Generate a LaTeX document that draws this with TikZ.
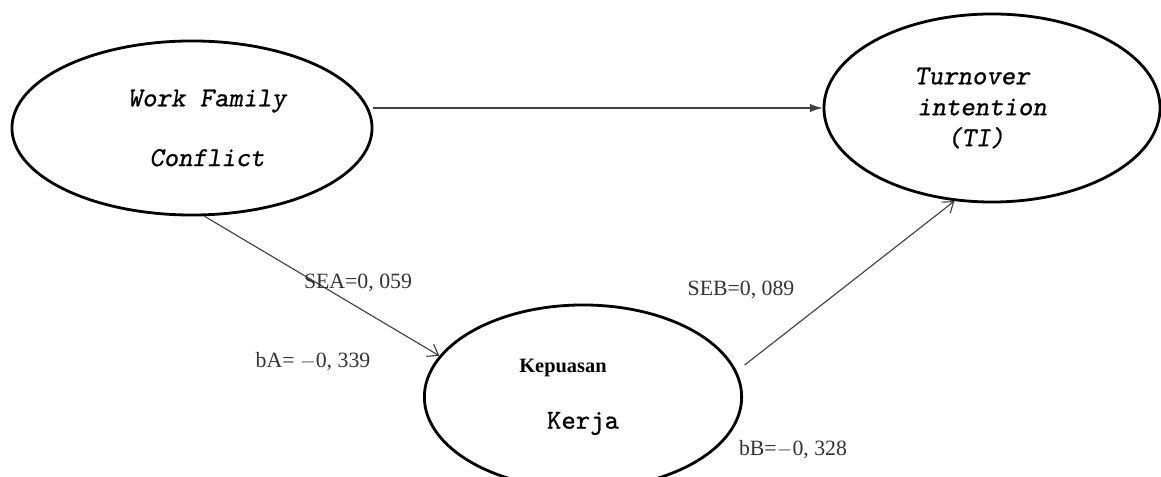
\documentclass[tikz,border=0pt]{standalone}
\usepackage{fontspec}
\setmainfont{Liberation Serif}
\newfontfamily\varfont{lmmono10-regular.otf}[ItalicFont=lmmonoslant10-regular.otf, FakeBold=0.8]
\usetikzlibrary{arrows.meta,shapes.geometric}

\begin{document}
\begin{tikzpicture}[
  x=0.025cm, y=-0.025cm,
  latent/.style={draw, ellipse, line width=2pt, inner sep=0pt, align=center,
    font=\varfont\fontsize{19.5}{22}\selectfont},
  coef/.style={font=\fontsize{15.5}{16}\selectfont, text=black!80, inner sep=0pt},
  effect/.style={line width=0.8pt, draw=black!75},
  direct/.style={effect, -{Latex[length=9pt, width=6pt]}},
  indirect/.style={effect, -{Straight Barb[length=7pt, width=10pt]}}
]
  \clip (0,0) rectangle (1161,477);

  % latent variables
  \node[latent, font=\varfont\itshape\fontsize{19.5}{22}\selectfont,
    minimum width=9cm, minimum height=4.35cm] (wfc) at (192,128)
    {\hbox{\hspace{0.75cm}Work Family}\\[20.5pt]\hbox{\hspace{0.75cm}Conflict}};
  \node[latent, font=\varfont\itshape\fontsize{19.5}{22}\selectfont,
    minimum width=8.4cm, minimum height=4.7cm] (ti) at (992,108)
    {\hbox{Turnover\hspace{1cm}}\\\hbox{intention\hspace{0.5cm}}\\\hbox{(TI)\hspace{0.8cm}}};
  \node[latent, minimum width=7.93cm, minimum height=4.6cm] (kerja) at (583,397)
    {\hbox{\rmfamily\bfseries\fontsize{14.5}{16}\selectfont Kepuasan\hspace{1cm}}\\[18pt]Kerja};

  % paths
  \draw[direct] (wfc.east |- ti.west) -- (ti.west);
  \draw[indirect] (wfc.-82) -- (kerja.164.6);
  \draw[indirect] ([xshift=8pt]kerja.12) -- (ti.248);

  % coefficients
  \node[coef] (sea) at (358,283) {SEA=0, 059};
  \node[coef] (ba) at (313,362) {bA= $-$0, 339};
  \node[coef] (seb) at (741,290) {SEB=0, 089};
  \node[coef] (bb) at (793,450) {bB=$-$0, 328};
\end{tikzpicture}
\end{document}
